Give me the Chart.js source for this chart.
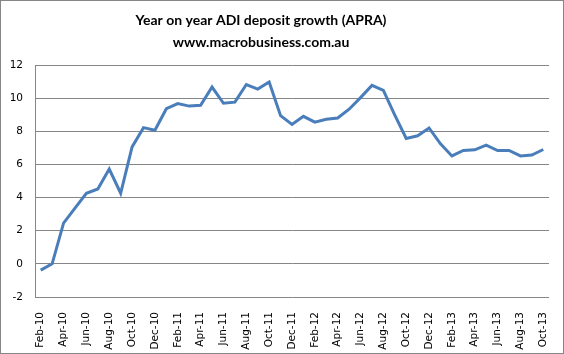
<!DOCTYPE html>
<html>
<head>
<meta charset="utf-8">
<script src="https://cdn.jsdelivr.net/npm/chart.js@4/dist/chart.umd.min.js"></script>
<style>
  html, body { margin: 0; padding: 0; background: #fff; }
  #wrap { width: 564px; height: 354px; position: relative; }
</style>
</head>
<body>
<div id="wrap"><canvas id="mycanvas" width="564" height="354"></canvas></div>
<script>
var titleLines = ['Year on year ADI deposit growth (APRA)', 'www.macrobusiness.com.au'];

var months = [
    'Feb-10','Mar-10','Apr-10','May-10','Jun-10','Jul-10','Aug-10','Sep-10','Oct-10','Nov-10','Dec-10',
    'Jan-11','Feb-11','Mar-11','Apr-11','May-11','Jun-11','Jul-11','Aug-11','Sep-11','Oct-11','Nov-11','Dec-11',
    'Jan-12','Feb-12','Mar-12','Apr-12','May-12','Jun-12','Jul-12','Aug-12','Sep-12','Oct-12','Nov-12','Dec-12',
    'Jan-13','Feb-13','Mar-13','Apr-13','May-13','Jun-13','Jul-13','Aug-13','Sep-13','Oct-13'
];

var growth = [
    -0.38, 0.0, 2.46, 3.36, 4.26, 4.52, 5.72, 4.26, 7.06, 8.22, 8.06,
    9.36, 9.67, 9.52, 9.57, 10.67, 9.69, 9.76, 10.82, 10.55, 10.98, 8.94, 8.41,
    8.9, 8.55, 8.73, 8.8, 9.33, 10.03, 10.77, 10.47, 8.98, 7.57, 7.73, 8.2,
    7.24, 6.51, 6.84, 6.88, 7.16, 6.84, 6.84, 6.51, 6.57, 6.9
];

var yTicks = [-2, 0, 2, 4, 6, 8, 10, 12];

var gridColor = '#868686';

// title + outer border, drawn like the excel chart box
var boxPlugin = {
    id: 'box',
    afterDraw: function(chart){
        var ctx = chart.ctx;
        ctx.save();
        ctx.strokeStyle = gridColor;
        ctx.lineWidth = 1;
        ctx.strokeRect(0.5, 0.5, chart.width - 1, chart.height - 1);
        ctx.fillStyle = '#000';
        ctx.font = 'bold 14px Lato';
        ctx.textAlign = 'center';
        ctx.textBaseline = 'middle';
        ctx.fillText(titleLines[0], 261, 20);
        ctx.fillText(titleLines[1], 261, 42);
        ctx.restore();
    }
};

var ctx = document.getElementById('mycanvas');
var LineGraph = new Chart(ctx, {
    type: 'line',
    data: {
        labels: months,
        datasets: [{
            label: 'ADI deposit growth',
            data: growth,
            borderColor: '#4A7EBB',
            backgroundColor: '#4A7EBB',
            borderWidth: 3,
            pointRadius: 0,
            tension: 0,
            fill: false
        }]
    },
    options: {
        responsive: false,
        animation: false,
        layout: { padding: { left: 0, top: 65, right: 15, bottom: 0 } },
        plugins: {
            legend: { display: false },
            title: { display: false },
            tooltip: { enabled: false }
        },
        scales: {
            x: {
                offset: true,
                grid: { display: false },
                border: { display: false },
                ticks: {
                    autoSkip: false,
                    minRotation: 90,
                    maxRotation: 90,
                    padding: 7,
                    color: '#000',
                    font: { family: 'DejaVu Sans', size: 10.5 },
                    callback: function(val, i){ return i % 2 === 0 ? months[i] : ''; }
                },
                afterFit: function(scale){ scale.height = 57; }
            },
            y: {
                min: -2,
                max: 12,
                afterBuildTicks: function(scale){
                    scale.ticks = yTicks.map(function(v){ return { value: v }; });
                },
                grid: { color: gridColor, drawTicks: false, lineWidth: 1 },
                border: { display: true, color: gridColor, width: 1 },
                ticks: {
                    padding: 12,
                    color: '#000',
                    font: { family: 'DejaVu Sans', size: 10.5 }
                },
                afterFit: function(scale){ scale.width = 35; }
            }
        }
    },
    plugins: [boxPlugin]
});
</script>
</body>
</html>
